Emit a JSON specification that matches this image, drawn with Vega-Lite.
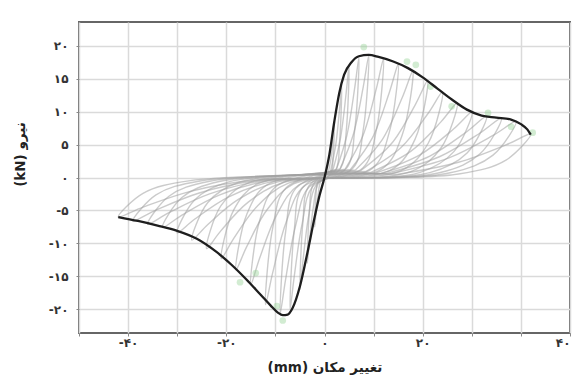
{
  "$schema": "https://vega.github.io/schema/vega-lite/v6.json",
  "width": 491,
  "height": 311,
  "autosize": {"type": "none"},
  "padding": {"left": 79, "top": 22, "right": 9, "bottom": 50},
  "background": "white",
  "config": {
    "view": {"stroke": "#666666", "strokeWidth": 2},
    "font": "DejaVu Sans"
  },
  "datasets": {
    "loops": [
      {"c":1,"o":1,"x":0.7,"y":0.56},{"c":1,"o":2,"x":1.3,"y":2.8},{"c":1,"o":3,"x":1.76,"y":6.0},{"c":1,"o":4,"x":2,"y":8},{"c":1,"o":5,"x":1.76,"y":3.2},{"c":1,"o":6,"x":1.3,"y":0.64},{"c":1,"o":7,"x":-0.7,"y":-0.53},{"c":1,"o":8,"x":-1.3,"y":-2.63},{"c":1,"o":9,"x":-1.76,"y":-5.63},{"c":1,"o":10,"x":-2,"y":-7.5},{"c":1,"o":11,"x":-1.76,"y":-3.0},{"c":1,"o":12,"x":-1.3,"y":-0.6},{"c":1,"o":13,"x":0.7,"y":0.56},
      {"c":2,"o":1,"x":1.23,"y":0.98},{"c":2,"o":2,"x":2.28,"y":4.9},{"c":2,"o":3,"x":3.08,"y":10.5},{"c":2,"o":4,"x":3.5,"y":14},{"c":2,"o":5,"x":3.08,"y":5.6},{"c":2,"o":6,"x":2.28,"y":1.12},{"c":2,"o":7,"x":-1.23,"y":-0.91},{"c":2,"o":8,"x":-2.28,"y":-4.55},{"c":2,"o":9,"x":-3.08,"y":-9.75},{"c":2,"o":10,"x":-3.5,"y":-13},{"c":2,"o":11,"x":-3.08,"y":-5.2},{"c":2,"o":12,"x":-2.28,"y":-1.04},{"c":2,"o":13,"x":1.23,"y":0.98},
      {"c":3,"o":1,"x":1.75,"y":1.19},{"c":3,"o":2,"x":3.25,"y":5.95},{"c":3,"o":3,"x":4.4,"y":12.75},{"c":3,"o":4,"x":5,"y":17},{"c":3,"o":5,"x":4.4,"y":6.8},{"c":3,"o":6,"x":3.25,"y":1.36},{"c":3,"o":7,"x":-1.75,"y":-1.19},{"c":3,"o":8,"x":-3.25,"y":-5.95},{"c":3,"o":9,"x":-4.4,"y":-12.75},{"c":3,"o":10,"x":-5,"y":-17},{"c":3,"o":11,"x":-4.4,"y":-6.8},{"c":3,"o":12,"x":-3.25,"y":-1.36},{"c":3,"o":13,"x":1.75,"y":1.19},
      {"c":4,"o":1,"x":2.45,"y":1.27},{"c":4,"o":2,"x":4.55,"y":6.37},{"c":4,"o":3,"x":6.16,"y":13.65},{"c":4,"o":4,"x":7,"y":18.2},{"c":4,"o":5,"x":6.16,"y":7.28},{"c":4,"o":6,"x":4.55,"y":1.46},{"c":4,"o":7,"x":-2.45,"y":-1.4},{"c":4,"o":8,"x":-4.55,"y":-7},{"c":4,"o":9,"x":-6.16,"y":-15},{"c":4,"o":10,"x":-7,"y":-20},{"c":4,"o":11,"x":-6.16,"y":-8},{"c":4,"o":12,"x":-4.55,"y":-1.6},{"c":4,"o":13,"x":2.45,"y":1.27},
      {"c":5,"o":1,"x":3.15,"y":1.3},{"c":5,"o":2,"x":5.85,"y":6.48},{"c":5,"o":3,"x":7.92,"y":13.88},{"c":5,"o":4,"x":9,"y":18.5},{"c":5,"o":5,"x":7.92,"y":7.4},{"c":5,"o":6,"x":5.85,"y":1.48},{"c":5,"o":7,"x":-3.15,"y":-1.44},{"c":5,"o":8,"x":-5.85,"y":-7.21},{"c":5,"o":9,"x":-7.92,"y":-15.45},{"c":5,"o":10,"x":-9,"y":-20.6},{"c":5,"o":11,"x":-7.92,"y":-8.24},{"c":5,"o":12,"x":-5.85,"y":-1.65},{"c":5,"o":13,"x":3.15,"y":1.3},
      {"c":6,"o":1,"x":4.2,"y":1.26},{"c":6,"o":2,"x":7.8,"y":6.3},{"c":6,"o":3,"x":10.56,"y":13.5},{"c":6,"o":4,"x":12,"y":18},{"c":6,"o":5,"x":10.56,"y":7.2},{"c":6,"o":6,"x":7.8,"y":1.44},{"c":6,"o":7,"x":-4.2,"y":-1.35},{"c":6,"o":8,"x":-7.8,"y":-6.76},{"c":6,"o":9,"x":-10.56,"y":-14.48},{"c":6,"o":10,"x":-12,"y":-19.3},{"c":6,"o":11,"x":-10.56,"y":-7.72},{"c":6,"o":12,"x":-7.8,"y":-1.54},{"c":6,"o":13,"x":4.2,"y":1.26},
      {"c":7,"o":1,"x":5.25,"y":1.2},{"c":7,"o":2,"x":9.75,"y":6.02},{"c":7,"o":3,"x":13.2,"y":12.9},{"c":7,"o":4,"x":15,"y":17.2},{"c":7,"o":5,"x":13.2,"y":6.88},{"c":7,"o":6,"x":9.75,"y":1.38},{"c":7,"o":7,"x":-5.25,"y":-1.14},{"c":7,"o":8,"x":-9.75,"y":-5.71},{"c":7,"o":9,"x":-13.2,"y":-12.23},{"c":7,"o":10,"x":-15,"y":-16.3},{"c":7,"o":11,"x":-13.2,"y":-6.52},{"c":7,"o":12,"x":-9.75,"y":-1.3},{"c":7,"o":13,"x":5.25,"y":1.2},
      {"c":8,"o":1,"x":6.3,"y":1.13},{"c":8,"o":2,"x":11.7,"y":5.67},{"c":8,"o":3,"x":15.84,"y":12.15},{"c":8,"o":4,"x":18,"y":16.2},{"c":8,"o":5,"x":15.84,"y":6.48},{"c":8,"o":6,"x":11.7,"y":1.3},{"c":8,"o":7,"x":-6.3,"y":-0.98},{"c":8,"o":8,"x":-11.7,"y":-4.9},{"c":8,"o":9,"x":-15.84,"y":-10.5},{"c":8,"o":10,"x":-18,"y":-14},{"c":8,"o":11,"x":-15.84,"y":-5.6},{"c":8,"o":12,"x":-11.7,"y":-1.12},{"c":8,"o":13,"x":6.3,"y":1.13},
      {"c":9,"o":1,"x":7.35,"y":1.03},{"c":9,"o":2,"x":13.65,"y":5.15},{"c":9,"o":3,"x":18.48,"y":11.03},{"c":9,"o":4,"x":21,"y":14.7},{"c":9,"o":5,"x":18.48,"y":5.88},{"c":9,"o":6,"x":13.65,"y":1.18},{"c":9,"o":7,"x":-7.35,"y":-0.86},{"c":9,"o":8,"x":-13.65,"y":-4.31},{"c":9,"o":9,"x":-18.48,"y":-9.23},{"c":9,"o":10,"x":-21,"y":-12.3},{"c":9,"o":11,"x":-18.48,"y":-4.92},{"c":9,"o":12,"x":-13.65,"y":-0.98},{"c":9,"o":13,"x":7.35,"y":1.03},
      {"c":10,"o":1,"x":8.4,"y":0.91},{"c":10,"o":2,"x":15.6,"y":4.55},{"c":10,"o":3,"x":21.12,"y":9.75},{"c":10,"o":4,"x":24,"y":13},{"c":10,"o":5,"x":21.12,"y":5.2},{"c":10,"o":6,"x":15.6,"y":1.04},{"c":10,"o":7,"x":-8.4,"y":-0.76},{"c":10,"o":8,"x":-15.6,"y":-3.78},{"c":10,"o":9,"x":-21.12,"y":-8.1},{"c":10,"o":10,"x":-24,"y":-10.8},{"c":10,"o":11,"x":-21.12,"y":-4.32},{"c":10,"o":12,"x":-15.6,"y":-0.86},{"c":10,"o":13,"x":8.4,"y":0.91},
      {"c":11,"o":1,"x":9.45,"y":0.79},{"c":11,"o":2,"x":17.55,"y":3.96},{"c":11,"o":3,"x":23.76,"y":8.48},{"c":11,"o":4,"x":27,"y":11.3},{"c":11,"o":5,"x":23.76,"y":4.52},{"c":11,"o":6,"x":17.55,"y":0.9},{"c":11,"o":7,"x":-9.45,"y":-0.67},{"c":11,"o":8,"x":-17.55,"y":-3.33},{"c":11,"o":9,"x":-23.76,"y":-7.13},{"c":11,"o":10,"x":-27,"y":-9.5},{"c":11,"o":11,"x":-23.76,"y":-3.8},{"c":11,"o":12,"x":-17.55,"y":-0.76},{"c":11,"o":13,"x":9.45,"y":0.79},
      {"c":12,"o":1,"x":10.5,"y":0.69},{"c":12,"o":2,"x":19.5,"y":3.47},{"c":12,"o":3,"x":26.4,"y":7.43},{"c":12,"o":4,"x":30,"y":9.9},{"c":12,"o":5,"x":26.4,"y":3.96},{"c":12,"o":6,"x":19.5,"y":0.79},{"c":12,"o":7,"x":-10.5,"y":-0.59},{"c":12,"o":8,"x":-19.5,"y":-2.94},{"c":12,"o":9,"x":-26.4,"y":-6.3},{"c":12,"o":10,"x":-30,"y":-8.4},{"c":12,"o":11,"x":-26.4,"y":-3.36},{"c":12,"o":12,"x":-19.5,"y":-0.67},{"c":12,"o":13,"x":10.5,"y":0.69},
      {"c":13,"o":1,"x":11.55,"y":0.65},{"c":13,"o":2,"x":21.45,"y":3.26},{"c":13,"o":3,"x":29.04,"y":6.98},{"c":13,"o":4,"x":33,"y":9.3},{"c":13,"o":5,"x":29.04,"y":3.72},{"c":13,"o":6,"x":21.45,"y":0.74},{"c":13,"o":7,"x":-11.55,"y":-0.53},{"c":13,"o":8,"x":-21.45,"y":-2.66},{"c":13,"o":9,"x":-29.04,"y":-5.7},{"c":13,"o":10,"x":-33,"y":-7.6},{"c":13,"o":11,"x":-29.04,"y":-3.04},{"c":13,"o":12,"x":-21.45,"y":-0.61},{"c":13,"o":13,"x":11.55,"y":0.65},
      {"c":14,"o":1,"x":12.6,"y":0.63},{"c":14,"o":2,"x":23.4,"y":3.15},{"c":14,"o":3,"x":31.68,"y":6.75},{"c":14,"o":4,"x":36,"y":9.0},{"c":14,"o":5,"x":31.68,"y":3.6},{"c":14,"o":6,"x":23.4,"y":0.72},{"c":14,"o":7,"x":-12.6,"y":-0.5},{"c":14,"o":8,"x":-23.4,"y":-2.49},{"c":14,"o":9,"x":-31.68,"y":-5.33},{"c":14,"o":10,"x":-36,"y":-7.1},{"c":14,"o":11,"x":-31.68,"y":-2.84},{"c":14,"o":12,"x":-23.4,"y":-0.57},{"c":14,"o":13,"x":12.6,"y":0.63},
      {"c":15,"o":1,"x":13.65,"y":0.6},{"c":15,"o":2,"x":25.35,"y":2.98},{"c":15,"o":3,"x":34.32,"y":6.38},{"c":15,"o":4,"x":39,"y":8.5},{"c":15,"o":5,"x":34.32,"y":3.4},{"c":15,"o":6,"x":25.35,"y":0.68},{"c":15,"o":7,"x":-13.65,"y":-0.46},{"c":15,"o":8,"x":-25.35,"y":-2.31},{"c":15,"o":9,"x":-34.32,"y":-4.95},{"c":15,"o":10,"x":-39,"y":-6.6},{"c":15,"o":11,"x":-34.32,"y":-2.64},{"c":15,"o":12,"x":-25.35,"y":-0.53},{"c":15,"o":13,"x":13.65,"y":0.6},
      {"c":16,"o":1,"x":14.7,"y":0.46},{"c":16,"o":2,"x":27.3,"y":2.31},{"c":16,"o":3,"x":36.96,"y":4.95},{"c":16,"o":4,"x":42,"y":6.6},{"c":16,"o":5,"x":36.96,"y":2.64},{"c":16,"o":6,"x":27.3,"y":0.53},{"c":16,"o":7,"x":-14.7,"y":-0.42},{"c":16,"o":8,"x":-27.3,"y":-2.1},{"c":16,"o":9,"x":-36.96,"y":-4.5},{"c":16,"o":10,"x":-42,"y":-6},{"c":16,"o":11,"x":-36.96,"y":-2.4},{"c":16,"o":12,"x":-27.3,"y":-0.48},{"c":16,"o":13,"x":14.7,"y":0.46}
    ],
    "envelope": [
      {"x":-42,"y":-6},{"x":-38,"y":-6.6},{"x":-34,"y":-7.3},{"x":-30,"y":-8.1},{"x":-26,"y":-9.3},{"x":-22,"y":-11.3},{"x":-19,"y":-13.2},{"x":-16,"y":-15.4},{"x":-13,"y":-17.8},{"x":-11,"y":-19.4},{"x":-9.5,"y":-20.5},{"x":-8.5,"y":-20.9},{"x":-7.5,"y":-20.8},{"x":-6.5,"y":-19.8},{"x":-5,"y":-16.5},{"x":-3.5,"y":-11.5},{"x":-2,"y":-6},{"x":-1,"y":-2.7},{"x":0,"y":0},{"x":1,"y":3.5},{"x":2,"y":8.5},{"x":3,"y":12.8},{"x":4,"y":15.6},{"x":5.5,"y":17.5},{"x":7,"y":18.4},{"x":9,"y":18.6},{"x":11,"y":18.3},{"x":14,"y":17.6},{"x":17,"y":16.6},{"x":20,"y":15.2},{"x":23,"y":13.5},{"x":26,"y":11.8},{"x":29,"y":10.3},{"x":32,"y":9.4},{"x":35,"y":9.1},{"x":38,"y":8.8},{"x":40,"y":8.1},{"x":41.3,"y":7.3},{"x":42,"y":6.5}
    ],
    "markers": [
      {"x":8,"y":19.8},{"x":16.8,"y":17.6},{"x":18.6,"y":17.1},{"x":21.6,"y":13.8},{"x":25.9,"y":10.8},{"x":33.3,"y":9.8},{"x":38,"y":7.7},{"x":42.4,"y":6.8},{"x":-17.2,"y":-15.9},{"x":-9.7,"y":-19.5},{"x":-8.5,"y":-21.7},{"x":-14,"y":-14.5}
    ]
  },
  "encoding": {
    "x": {
      "field": "x", "type": "quantitative",
      "scale": {"domain": [-50, 50], "nice": false, "zero": false},
      "axis": {
        "values": [-50, -40, -30, -20, -10, 0, 10, 20, 30, 40, 50],
        "labelExpr": "datum.value == -40 ? '-۴۰' : datum.value == -20 ? '-۲۰' : datum.value == 0 ? '۰' : datum.value == 20 ? '۲۰' : datum.value == 50 ? '۴۰' : ''",
        "title": "\u202bتغییر مکان (mm)\u202c",
        "grid": true, "gridColor": "#dadada", "gridWidth": 1.5,
        "domain": false, "ticks": true, "tickSize": 3, "tickColor": "#888888",
        "labelFont": "DejaVu Sans", "labelFontSize": 12, "labelFontWeight": "bold", "labelColor": "#333333", "labelPadding": 1,
        "titleFont": "DejaVu Sans", "titleFontSize": 13.5, "titleFontWeight": "bold", "titleColor": "#222222", "titlePadding": 12
      }
    },
    "y": {
      "field": "y", "type": "quantitative",
      "scale": {"domain": [-23.6, 23.6], "nice": false, "zero": false},
      "axis": {
        "values": [-20, -15, -10, -5, 0, 5, 10, 15, 20],
        "labelExpr": "datum.value == 20 ? '۲۰' : datum.value == 15 ? '۱۵' : datum.value == 10 ? '۱۰' : datum.value == 5 ? '۵' : datum.value == 0 ? '۰' : datum.value == -5 ? '-۵' : datum.value == -10 ? '-۱۰' : datum.value == -15 ? '-۱۵' : '-۲۰'",
        "title": "\u202bنیرو (kN)\u202c",
        "grid": true, "gridColor": "#dadada", "gridWidth": 1.5,
        "domain": false, "ticks": true, "tickSize": 3, "tickColor": "#888888",
        "labelFont": "DejaVu Sans", "labelFontSize": 12, "labelFontWeight": "bold", "labelColor": "#333333", "labelPadding": 8,
        "titleFont": "DejaVu Sans", "titleFontSize": 13.5, "titleFontWeight": "bold", "titleColor": "#222222",
        "titleX": -59, "titleY": 132, "titleAngle": 270, "titleAlign": "center", "titleBaseline": "middle"
      }
    }
  },
  "layer": [
    {
      "data": {"name": "loops"},
      "mark": {"type": "line", "interpolate": "catmull-rom", "color": "#a0a0a0", "strokeWidth": 1.4, "opacity": 0.55},
      "encoding": {
        "detail": {"field": "c", "type": "nominal"},
        "order": {"field": "o", "type": "quantitative"}
      }
    },
    {
      "data": {"name": "markers"},
      "mark": {"type": "circle", "color": "#8fcf8f", "size": 45, "opacity": 0.4},
      "encoding": {}
    },
    {
      "data": {"name": "envelope"},
      "mark": {"type": "line", "interpolate": "monotone", "color": "#1e1e1e", "strokeWidth": 2.3},
      "encoding": {}
    }
  ]
}
